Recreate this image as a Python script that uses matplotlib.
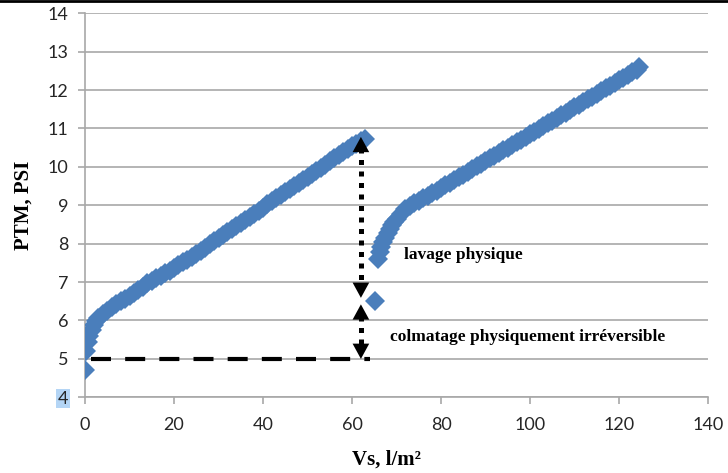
import numpy as np
import matplotlib
matplotlib.use('Agg')
import matplotlib.pyplot as plt
from matplotlib.lines import Line2D

# premier cycle de filtration (avant lavage)
vs_1 = [0, 0.3, 0.6, 1, 1.5, 2, 2.5, 3, 4, 5, 6, 7, 8, 9, 10, 11, 12, 13, 14, 15,
        16, 17, 18, 19, 20, 21, 22, 23, 24, 25, 26, 27, 28, 29, 30, 31, 32, 33, 34,
        35, 36, 37, 38, 39, 40, 41, 42, 43, 44, 45, 46, 47, 48, 49, 50, 51, 52, 53,
        54, 55, 56, 57, 58, 59, 60, 61, 62, 63]
ptm_1 = [4.7, 5.2, 5.45, 5.6, 5.75, 5.88, 5.98, 6.06, 6.17, 6.26, 6.34, 6.42, 6.5,
         6.57, 6.64, 6.72, 6.8, 6.88, 6.98, 7.04, 7.1, 7.16, 7.23, 7.3, 7.37, 7.44,
         7.51, 7.58, 7.66, 7.74, 7.82, 7.9, 7.98, 8.06, 8.14, 8.22, 8.3, 8.38, 8.46,
         8.54, 8.62, 8.7, 8.78, 8.86, 8.94, 9.02, 9.1, 9.18, 9.26, 9.34, 9.42, 9.5,
         9.58, 9.66, 9.74, 9.82, 9.9, 9.98, 10.06, 10.14, 10.22, 10.3, 10.38, 10.46,
         10.54, 10.6, 10.67, 10.72]

# second cycle (apres lavage physique)
vs_2 = [65.2, 65.9, 66.2, 66.6, 67, 67.5, 68, 68.5, 69, 69.5, 70, 71, 72, 73, 74,
        75, 76, 77, 78, 79, 80, 81, 82, 83, 84, 85, 86, 87, 88, 89, 90, 91, 92, 93,
        94, 95, 96, 97, 98, 99, 100, 101, 102, 103, 104, 105, 106, 107, 108, 109,
        110, 111, 112, 113, 114, 115, 116, 117, 118, 119, 120, 121, 122, 123, 124,
        124.6]
ptm_2 = [6.5, 7.6, 7.78, 7.92, 8.04, 8.16, 8.28, 8.38, 8.48, 8.57, 8.65, 8.78, 8.89,
         8.98, 9.06, 9.12, 9.18, 9.24, 9.31, 9.38, 9.45, 9.52, 9.59, 9.66, 9.73, 9.8,
         9.87, 9.94, 10.01, 10.08, 10.15, 10.22, 10.29, 10.36, 10.43, 10.5, 10.57,
         10.64, 10.71, 10.78, 10.85, 10.92, 10.99, 11.06, 11.13, 11.2, 11.27, 11.34,
         11.41, 11.48, 11.55, 11.62, 11.69, 11.76, 11.83, 11.9, 11.97, 12.04, 12.11,
         12.18, 12.25, 12.32, 12.39, 12.46, 12.53, 12.6]

x_ticks = [0, 20, 40, 60, 80, 100, 120, 140]
y_ticks = [4, 5, 6, 7, 8, 9, 10, 11, 12, 13, 14]

# annotations
ptm_base = 5.0
vs_arrow = 62
ptm_fin = 10.78
ptm_lavage = 6.59
ptm_reprise = 6.42

bleu = '#4A7EBB'
gris = '#A8A8A8'

fig = plt.figure(figsize=(7.28, 4.73), dpi=100)
ax = fig.add_axes([0.1168, 0.160, 0.8557, 0.8121])

ax.plot(vs_1, ptm_1, linestyle='none', marker='D', markersize=10, color=bleu,
        markeredgewidth=0, zorder=3)
ax.plot(vs_2, ptm_2, linestyle='none', marker='D', markersize=10, color=bleu,
        markeredgewidth=0, zorder=3)

# ligne de base en tirets
ax.plot([1.3, 64], [ptm_base, ptm_base], color='black', lw=3,
        linestyle=(0, (4.8, 3.4)), zorder=4)

# fleches pointillees
ax.plot([vs_arrow, vs_arrow], [ptm_fin - 0.3, ptm_lavage + 0.3], color='black',
        lw=3.6, linestyle=(0, (1, 1.3)), zorder=4)
ax.plot([vs_arrow, vs_arrow], [ptm_reprise - 0.3, ptm_base + 0.3], color='black',
        lw=3.6, linestyle=(0, (1, 1.3)), zorder=4)

tete = dict(arrowstyle='-|>,head_length=1.1,head_width=0.6', color='black',
            lw=0, shrinkA=0, shrinkB=0, mutation_scale=10)
for y_tip, sens in [(ptm_fin, -1), (ptm_lavage, 1), (ptm_reprise, -1), (ptm_base, 1)]:
    ax.annotate('', xy=(vs_arrow, y_tip), xytext=(vs_arrow, y_tip + sens * 0.45),
                arrowprops=tete, zorder=5)

serif = 'Liberation Serif'
ax.text(71.7, 7.7, 'lavage physique', family=serif, weight='bold', fontsize=12.5,
        va='center', ha='left')
ax.text(68.5, 5.57, 'colmatage physiquement irréversible', family=serif,
        weight='bold', fontsize=12.5, va='center', ha='left')

ax.set_xlim(0, 140)
ax.set_ylim(4, 14)
ax.set_xticks(x_ticks)
ax.set_yticks(y_ticks)
ax.grid(axis='y', color=gris, lw=1.2)
ax.set_axisbelow(True)

for s in ['top', 'right']:
    ax.spines[s].set_visible(False)
for s in ['left', 'bottom']:
    ax.spines[s].set_color(gris)
    ax.spines[s].set_linewidth(1.2)

ax.tick_params(axis='both', colors=gris, length=5, width=1.2, labelcolor='#262626',
               labelsize=13)
for lab in ax.get_xticklabels() + ax.get_yticklabels():
    lab.set_family('Lato')
ax.tick_params(axis='y', pad=7)
ax.tick_params(axis='x', pad=9)
# le "4" est surligne dans l'original
ax.get_yticklabels()[0].set_bbox(dict(facecolor='#B4D5F5', edgecolor='none', pad=1))

ax.set_xlabel('Vs, l/m²', family=serif, weight='bold', fontsize=15)
ax.xaxis.set_label_coords(0.484, -0.135)
ax.set_ylabel('PTM, PSI', family=serif, weight='bold', fontsize=15, labelpad=10)

# trait noir en haut de l'image
fig.add_artist(Line2D([0, 1], [0.998, 0.998], transform=fig.transFigure,
                      color='black', lw=2))

plt.savefig('out.png', dpi=100)
